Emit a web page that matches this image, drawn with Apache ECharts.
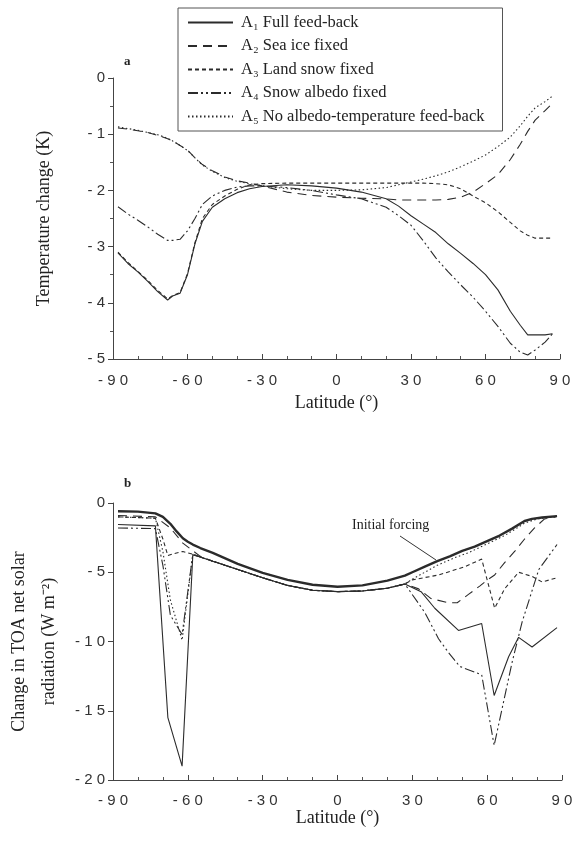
<!DOCTYPE html>
<html>
<head>
<meta charset="utf-8">
<script src="https://cdn.jsdelivr.net/npm/echarts@6/dist/echarts.min.js"></script>
<style>
  html, body { margin: 0; padding: 0; background: #fff; }
  #main { width: 574px; height: 843px; }
</style>
</head>
<body>
<div id="main"></div>
<script>
// series names (legend)
var names = ['A\u2081 Full feed-back', 'A\u2082 Sea ice fixed', 'A\u2083 Land snow fixed',
             'A\u2084 Snow albedo fixed', 'A\u2085 No albedo-temperature feed-back'];

// panel a : temperature change (K)
var latA = [-88,-84,-80,-76,-72,-68,-66,-63,-60,-57,-54,-50,-45,-40,-35,-30,-20,-10,0,10,
            20,25,30,35,40,45,50,55,60,65,70,74,77,80,84,87];
var a1 = [-3.11,-3.3,-3.45,-3.62,-3.8,-3.95,-3.88,-3.83,-3.5,-2.95,-2.55,-2.3,-2.15,-2.04,-1.97,
          -1.93,-1.9,-1.92,-1.96,-2.03,-2.15,-2.28,-2.45,-2.6,-2.75,-2.95,-3.12,-3.3,-3.5,-3.77,
          -4.15,-4.4,-4.57,-4.57,-4.57,-4.55];
var a2 = [-0.89,-0.91,-0.94,-0.97,-1.02,-1.08,-1.12,-1.2,-1.28,-1.42,-1.54,-1.65,-1.76,-1.83,-1.87,
          -1.92,-2.03,-2.09,-2.12,-2.14,-2.15,-2.17,-2.17,-2.17,-2.17,-2.16,-2.12,-2.03,-1.88,-1.72,
          -1.45,-1.18,-0.95,-0.75,-0.58,-0.45];
var a3 = [-3.1,-3.28,-3.44,-3.6,-3.78,-3.93,-3.87,-3.82,-3.48,-2.93,-2.5,-2.25,-2.1,-1.98,-1.9,
          -1.88,-1.87,-1.87,-1.87,-1.87,-1.87,-1.87,-1.87,-1.87,-1.88,-1.9,-1.97,-2.1,-2.22,-2.38,
          -2.57,-2.72,-2.8,-2.85,-2.85,-2.85];
var a4 = [-2.29,-2.42,-2.53,-2.65,-2.78,-2.89,-2.89,-2.87,-2.72,-2.5,-2.25,-2.1,-2.0,-1.94,-1.92,
          -1.92,-1.95,-2.0,-2.08,-2.15,-2.3,-2.45,-2.62,-2.9,-3.2,-3.45,-3.68,-3.9,-4.15,-4.42,
          -4.72,-4.88,-4.93,-4.84,-4.7,-4.55];
var a5 = [-0.87,-0.9,-0.93,-0.97,-1.01,-1.07,-1.12,-1.2,-1.29,-1.42,-1.55,-1.66,-1.77,-1.84,-1.88,
          -1.92,-1.97,-2.0,-2.0,-1.99,-1.95,-1.9,-1.85,-1.8,-1.74,-1.67,-1.58,-1.48,-1.37,-1.22,
          -1.05,-0.85,-0.68,-0.53,-0.42,-0.32];

// panel b : change in TOA net solar radiation (W m-2)
var latF = [-88,-80,-73,-70,-67,-64.5,-62,-60,-58,-55,-50,-40,-30,-20,-10,0,10,20,27,30,
            35,40,45,50,55,60,65,70,75,78,82,88];
var forcing = [-0.6,-0.62,-0.75,-1.0,-1.5,-2.05,-2.55,-2.8,-3.0,-3.25,-3.6,-4.4,-5.05,-5.55,-5.9,
               -6.05,-5.95,-5.6,-5.25,-5.0,-4.6,-4.2,-3.85,-3.45,-3.15,-2.75,-2.35,-1.85,-1.3,-1.15,
               -1.05,-0.95];
var latB1 = [-88,-73,-68,-62.3,-58,-55,-50,-40,-30,-20,-10,0,10,20,27,33.5,39,48.5,57.8,62.8,
             68.6,72.6,78,88];
var b1 = [-1.55,-1.65,-15.5,-19.0,-3.75,-3.9,-4.2,-4.8,-5.4,-5.95,-6.3,-6.4,-6.35,-6.15,-5.85,
          -6.4,-7.6,-9.2,-8.7,-13.9,-11.1,-9.7,-10.4,-9.0];
var latB2 = [-88,-73,-67,-62,-58,-55,-50,-40,-30,-20,-10,0,10,20,27,32.5,37.5,44.5,48,52.5,
             57,60.5,63,67,71,75,79,83,88];
var b2 = [-0.9,-1.0,-1.8,-2.9,-3.45,-3.85,-4.2,-4.8,-5.4,-5.95,-6.3,-6.4,-6.35,-6.15,-5.85,
          -6.2,-6.9,-7.2,-7.2,-6.6,-6.0,-5.5,-5.2,-4.3,-3.5,-2.6,-1.8,-1.15,-0.95];
var latB3 = [-88,-73,-70,-68,-65.5,-62,-58,-55,-50,-40,-30,-20,-10,0,10,20,27,30,40.5,51,
             57.8,63,67,72.6,78,82,88];
var b3 = [-1.0,-1.1,-2.6,-3.8,-3.65,-3.5,-3.7,-3.9,-4.2,-4.8,-5.4,-5.95,-6.3,-6.4,-6.35,
          -6.15,-5.85,-5.55,-5.2,-4.6,-4.05,-7.6,-6.2,-5.0,-5.3,-5.7,-5.4];
var latB4 = [-88,-73,-70,-67,-62.3,-58,-55,-50,-40,-30,-20,-10,0,10,20,27,35,40.5,44.5,49,
             57.8,62.8,70,74,80.7,88];
var b4 = [-1.8,-1.85,-4.5,-8.1,-9.5,-3.7,-3.9,-4.2,-4.8,-5.4,-5.95,-6.3,-6.4,-6.35,-6.15,
          -5.85,-7.9,-9.8,-10.8,-11.8,-12.4,-17.5,-11.5,-8.6,-4.8,-3.0];
var latB5 = [-88,-73,-70,-67,-62.3,-58,-55,-50,-40,-30,-20,-10,0,10,20,27,30,35,40,47,
             53,60,67,72,75,80,88];
var b5 = [-1.0,-1.1,-3.5,-7.0,-9.9,-3.7,-3.9,-4.2,-4.8,-5.4,-5.95,-6.3,-6.4,-6.35,-6.15,
          -5.85,-5.5,-5.0,-4.5,-3.95,-3.55,-2.95,-2.35,-1.8,-1.45,-1.15,-1.0];

var lineTypes = ['solid', [9, 6], [4, 3], [10, 3, 2, 3, 2, 3], [1.5, 2.5]];
var ink = '#2b2b2b';

function zip(xs, ys) {
    var out = [];
    for (var i = 0; i < xs.length; i++) out.push([xs[i], ys[i]]);
    return out;
}
// "-90" -> "- 9 0"
function spaced(v) {
    return String(v).split('').join(' ');
}

function line(name, data, k, gi, width) {
    return {
        name: name,
        type: 'line',
        xAxisIndex: gi,
        yAxisIndex: gi,
        data: data,
        symbol: 'none',
        lineStyle: { color: ink, width: width || 1.1, type: lineTypes[k] },
        itemStyle: { color: ink }
    };
}

var serif = 'Liberation Serif, Times New Roman, serif';
var sans = 'Liberation Sans, Arial, sans-serif';

function xAx(gi, gap, margin) {
    return {
        type: 'value', gridIndex: gi, min: -90, max: 90, interval: 30,
        name: 'Latitude (\u00b0)', nameLocation: 'middle', nameGap: gap,
        nameTextStyle: { fontFamily: serif, fontSize: 18, color: '#222' },
        axisLine: { onZero: false, lineStyle: { color: '#444', width: 1 } },
        axisTick: { inside: true, length: 5, lineStyle: { color: '#444' } },
        minorTick: { show: true, splitNumber: 3, length: 3, lineStyle: { color: '#555' } },
        splitLine: { show: false },
        axisLabel: { fontFamily: sans, fontSize: 15, color: '#333', margin: margin, formatter: spaced }
    };
}

var myChart = echarts.init(document.getElementById('main'));
var option = {
    animation: false,
    backgroundColor: '#fff',
    grid: [
        { left: 113, right: 14, top: 78, height: 281, outerBoundsMode: 'none' },
        { left: 113, right: 12, top: 503, height: 277, outerBoundsMode: 'none' }
    ],
    legend: {
        data: names,
        orient: 'vertical',
        left: 178, top: 8,
        itemWidth: 45, itemHeight: 12, itemGap: 6.5,
        padding: [6, 18, 6, 9],
        borderColor: '#555', borderWidth: 1,
        selectedMode: false,
        itemStyle: { opacity: 0 },
        textStyle: { fontFamily: serif, fontSize: 16.5, color: '#222', padding: [0, 0, 0, 3] }
    },
    xAxis: [xAx(0, 35, 14), xAx(1, 28, 13)],
    yAxis: [
        {
            type: 'value', gridIndex: 0, min: -5, max: 0, interval: 1,
            name: 'Temperature change (K)', nameLocation: 'middle', nameGap: 60, nameRotate: 90,
            nameTextStyle: { fontFamily: serif, fontSize: 18, color: '#222' },
            axisLine: { show: true, onZero: false, lineStyle: { color: '#444', width: 1 } },
            axisTick: { show: true, length: 5, lineStyle: { color: '#444' } },
            minorTick: { show: true, splitNumber: 2, length: 3, lineStyle: { color: '#555' } },
            splitLine: { show: false },
            axisLabel: { fontFamily: sans, fontSize: 15, color: '#333', margin: 8, formatter: spaced }
        },
        {
            type: 'value', gridIndex: 1, min: -20, max: 0, interval: 5,
            name: 'Change in TOA net solar\nradiation (W m\u207b\u00b2)', nameLocation: 'middle',
            nameGap: 44, nameRotate: 90,
            nameTextStyle: { fontFamily: serif, fontSize: 18, color: '#222', lineHeight: 30 },
            axisLine: { show: true, onZero: false, lineStyle: { color: '#444', width: 1 } },
            axisTick: { show: true, length: 5, lineStyle: { color: '#444' } },
            splitLine: { show: false },
            axisLabel: { fontFamily: sans, fontSize: 15, color: '#333', margin: 8, formatter: spaced }
        }
    ],
    graphic: [
        { type: 'text', left: 124, top: 55, style: { text: 'a', font: 'bold 13px ' + serif, fill: '#222' } },
        { type: 'text', left: 124, top: 477, style: { text: 'b', font: 'bold 13px ' + serif, fill: '#222' } },
        { type: 'text', left: 352, top: 518, style: { text: 'Initial forcing', font: '14px ' + serif, fill: '#222' } },
        { type: 'line', shape: { x1: 400, y1: 536, x2: 436, y2: 560 }, style: { stroke: '#333', lineWidth: 1 } }
    ],
    series: [
        line(names[0], zip(latA, a1), 0, 0),
        line(names[1], zip(latA, a2), 1, 0),
        line(names[2], zip(latA, a3), 2, 0),
        line(names[3], zip(latA, a4), 3, 0),
        line(names[4], zip(latA, a5), 4, 0),
        line('Initial forcing', zip(latF, forcing), 0, 1, 2.4),
        line(names[0], zip(latB1, b1), 0, 1),
        line(names[1], zip(latB2, b2), 1, 1),
        line(names[2], zip(latB3, b3), 2, 1),
        line(names[3], zip(latB4, b4), 3, 1),
        line(names[4], zip(latB5, b5), 4, 1)
    ]
};
if (option && typeof option === "object") {
    myChart.setOption(option, true);
}
</script>
</body>
</html>
